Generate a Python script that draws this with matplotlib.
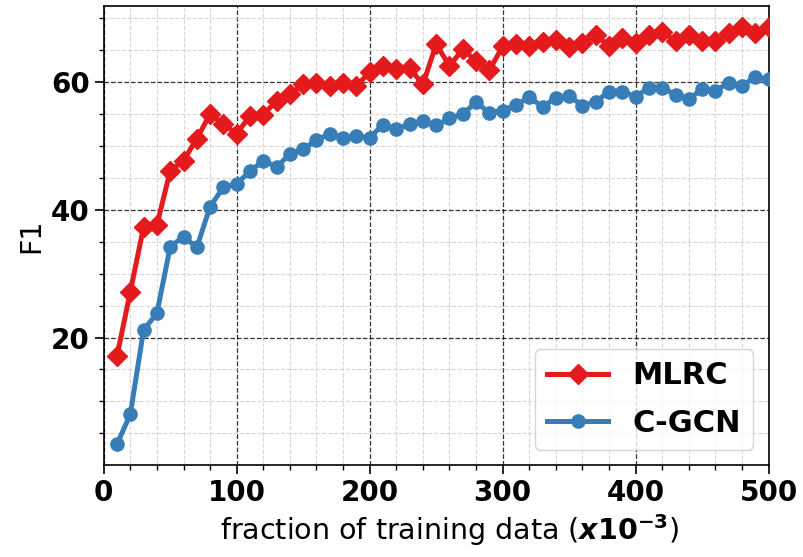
import numpy as np
import matplotlib
matplotlib.use("Agg")
import matplotlib.pyplot as plt
from matplotlib.ticker import MultipleLocator

# доля обучающих данных (x10^-3)
fractions = np.arange(10, 501, 10)

mlrc_f1 = [17.1, 27.2, 37.3, 37.6, 46.1, 47.7, 51.1, 55.0, 53.4, 51.9,
           54.7, 54.9, 57.0, 58.1, 59.6, 59.9, 59.4, 59.9, 59.4, 61.5,
           62.5, 62.0, 62.2, 59.6, 65.9, 62.5, 65.1, 63.3, 61.8, 65.6,
           65.9, 65.6, 66.3, 66.6, 65.4, 66.1, 67.4, 65.6, 66.9, 66.1,
           67.4, 67.8, 66.4, 67.4, 66.4, 66.4, 67.6, 68.6, 67.6, 68.6]

cgcn_f1 = [3.3, 8.0, 21.2, 23.8, 34.2, 35.8, 34.1, 40.5, 43.5, 44.1,
           46.0, 47.7, 46.7, 48.7, 49.5, 50.9, 51.9, 51.3, 51.5, 51.3,
           53.3, 52.6, 53.4, 53.9, 53.2, 54.3, 55.0, 56.8, 55.2, 55.5,
           56.4, 57.6, 56.1, 57.5, 57.8, 56.3, 56.9, 58.5, 58.5, 57.7,
           59.1, 59.1, 58.0, 57.3, 58.9, 58.6, 59.9, 59.4, 60.8, 60.4]

fig = plt.figure(figsize=(8.04, 5.57), dpi=100)
ax = fig.add_axes([0.129, 0.165, 0.827, 0.824])

ax.plot(fractions, mlrc_f1, color="#e41a1c", marker="D", markersize=10,
        linewidth=3.6, label="MLRC", zorder=3)
ax.plot(fractions, cgcn_f1, color="#377eb8", marker="o", markersize=9.5,
        linewidth=3.6, label="C-GCN", zorder=3)

ax.set_xlim(0, 500)
ax.xaxis.set_major_locator(MultipleLocator(100))
ax.xaxis.set_minor_locator(MultipleLocator(20))
ax.yaxis.set_major_locator(MultipleLocator(20))
ax.yaxis.set_minor_locator(MultipleLocator(5))

# сетка: основная чёрная, вспомогательная светлая
ax.grid(True, which="major", linestyle="--", color="black", linewidth=0.9, alpha=0.8)
ax.grid(True, which="minor", linestyle="--", color="#cccccc", linewidth=0.8, alpha=0.8)
ax.set_axisbelow(True)

ax.tick_params(which="major", length=6.5, width=1.2, labelsize=20)
ax.tick_params(which="minor", length=3.5, width=1)
for lbl in ax.get_xticklabels() + ax.get_yticklabels():
    lbl.set_fontweight("bold")

ax.set_xlabel(r"fraction of training data ($\boldsymbol{x}\mathbf{10^{\mathbf{-3}}}$)",
              fontsize=20.5)
ax.xaxis.label.set_x(0.52)
ax.set_ylabel("F1", fontsize=20.5)

ax.legend(loc="lower right", prop={"weight": "bold", "size": 22},
          handlelength=2.0, borderaxespad=0.5, labelspacing=0.6)

for sp in ax.spines.values():
    sp.set_linewidth(1.2)

plt.savefig("out.png", dpi=100)
